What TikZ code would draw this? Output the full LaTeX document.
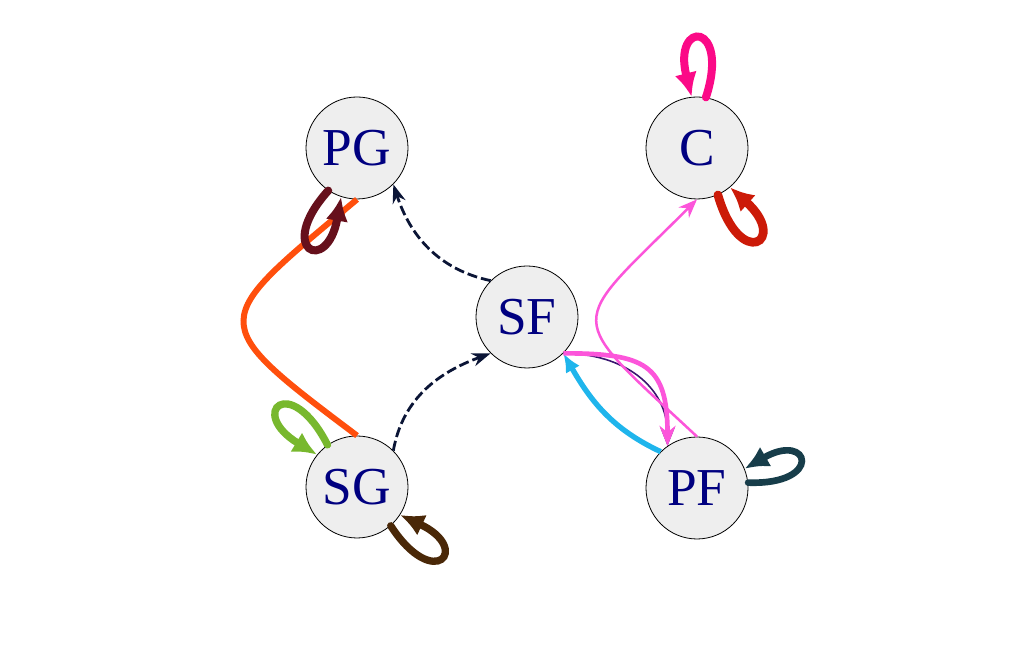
\documentclass[tikz,border=0pt]{standalone}
\usepackage{fontspec}
\setmainfont{Liberation Serif}
\usetikzlibrary{arrows.meta,decorations.markings}

\definecolor{nodefill}{HTML}{EEEEEE}
\definecolor{labelnavy}{HTML}{000080}
\definecolor{dashnavy}{HTML}{0B1536}
\definecolor{orangeedge}{HTML}{FF4F0D}
\definecolor{pinkedge}{HTML}{FC55DA}
\definecolor{purpleedge}{HTML}{3A1670}
\definecolor{cyanedge}{HTML}{1FB5EC}
\definecolor{maroonloop}{HTML}{66101C}
\definecolor{magentaloop}{HTML}{FB0A87}
\definecolor{redloop}{HTML}{CC1A08}
\definecolor{greenloop}{HTML}{78B82E}
\definecolor{brownloop}{HTML}{4A2808}
\definecolor{tealloop}{HTML}{173D4A}

\begin{document}
\begin{tikzpicture}[x=0.75pt,y=0.75pt,
  state/.style={circle,draw=black,line width=0.6pt,fill=nodefill,
    minimum size=76.5pt,inner sep=0pt,text=labelnavy,
    font=\fontsize{40}{40}\selectfont},
  loopline/.style={line width=#1,line cap=round},
  loopline/.default=6pt,
  looptip/.style={-{Latex[length=18pt,width=17pt,fill=#1]}},
  dashedge/.style={draw=dashnavy,line width=2.1pt,dash pattern=on 7.5pt off 3pt,
    -{Stealth[length=14pt,width=10pt]}},
  thinarrow/.style={-{Stealth[length=14pt,width=11pt]}},
  midtip/.style={postaction={decorate},decoration={markings,
    mark=at position -7pt with {\arrow{Latex[length=11pt,width=10pt]}}}},
]
\useasboundingbox (0,0) rectangle (1015,655);

% states
\node[state] (PG) at (357,507) {PG};
\node[state] (C)  at (697,507) {C};
\node[state] (SF) at (527,338) {SF};
\node[state] (SG) at (357,168) {SG};
\node[state] (PF) at (697,167) {PF};

% dashed transitions
\draw[dashedge] (SF.135) to[out=168,in=-72] (PG.-45);
\draw[dashedge] (SG.45) to[out=80,in=200] (SF.225);

% PF back to SF
\draw[cyanedge,line width=4pt,-{Latex[length=14pt,width=12pt]}]
  (PF.135) to[out=155,in=-60] (SF.-45);

% SF to PF, a thin and a thick path
\draw[purpleedge,line width=1.2pt,thinarrow] (SF.-45) to[out=0,in=90,looseness=1.1] (PF.125);
\draw[pinkedge,line width=3.5pt,-{Stealth[length=15pt,width=12pt]}]
  (SF.-45) to[out=0,in=90,looseness=1.5] (PF.125);

% PF to C
\draw[pinkedge,line width=1.9pt,thinarrow] (PF.north) to[out=137,in=225,looseness=2] (C.south);

% SG to PG
\draw[orangeedge,line width=4.5pt,midtip] (SG.north) to[out=143,in=220,looseness=2.1] (PG.south);

% self loops
\draw[loopline,draw=maroonloop,looptip=maroonloop]
  (PG.236) .. controls +(228:80) and +(260:80) .. (PG.252);
\draw[loopline,draw=magentaloop,looptip=magentaloop]
  (C.80) .. controls +(72:80) and +(104:80) .. (C.96);
\draw[loopline=6.5pt,draw=redloop,looptip=redloop]
  (C.-66) .. controls +(-74:80) and +(-42:80) .. (C.-50);
\draw[loopline=5.5pt,draw=greenloop,looptip=greenloop]
  (SG.125) .. controls +(117:82) and +(149:82) .. (SG.141);
\draw[loopline=5.5pt,draw=brownloop,looptip=brownloop]
  (SG.-49) .. controls +(-57:80) and +(-25:80) .. (SG.-33);
\draw[loopline=5pt,draw=tealloop,looptip=tealloop]
  (PF.6) .. controls +(-2:76) and +(30:76) .. (PF.22);
\end{tikzpicture}
\end{document}
